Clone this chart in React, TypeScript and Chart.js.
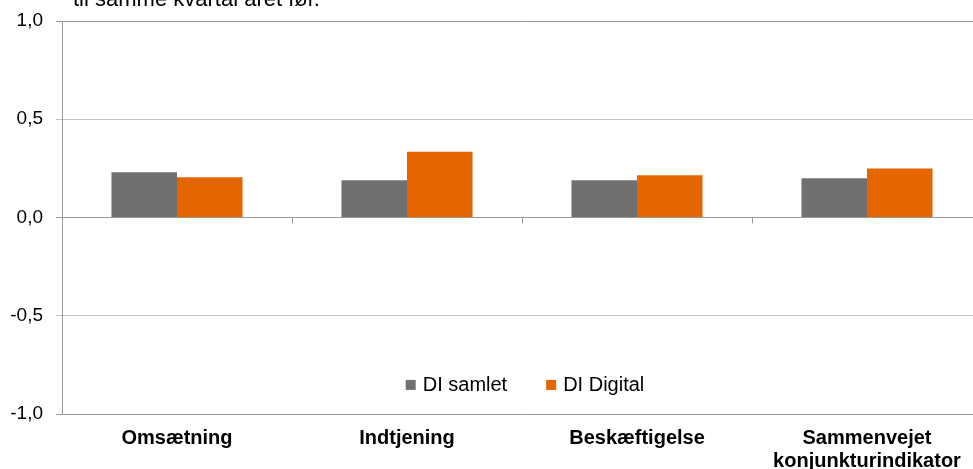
import React, { useEffect, useRef } from "react";
import { Chart, registerables } from "chart.js";

Chart.register(...registerables);

const categories: (string | string[])[] = [
  "Omsætning",
  "Indtjening",
  "Beskæftigelse",
  ["Sammenvejet", "konjunkturindikator"],
];
const seriesNames = ["DI samlet", "DI Digital"];
const diSamlet = [0.23, 0.19, 0.19, 0.2];
const diDigital = [0.205, 0.335, 0.215, 0.25];
const yTicks = [-1, -0.5, 0, 0.5, 1];
const titleText = "til samme kvartal året før.";

const FONT = 'Arial, "Liberation Sans", sans-serif';
const GRAY = "#707070";
const ORANGE = "#e46600";

const extrasPlugin = {
  id: "extras",
  afterDraw(chart: any) {
    const ctx = chart.ctx;
    const x = chart.scales.x;
    const y = chart.scales.y;
    const area = chart.chartArea;
    ctx.save();
    const zeroY = y.getPixelForValue(0);
    const n = chart.data.labels.length;
    ctx.strokeStyle = "#999999";
    ctx.lineWidth = 1;
    for (let i = 0; i <= n; i++) {
      const px = Math.round(x.left + (i * (x.right - x.left)) / n) + 0.5;
      ctx.beginPath();
      ctx.moveTo(px, zeroY);
      ctx.lineTo(px, zeroY + 6);
      ctx.stroke();
    }
    ctx.font = `20px ${FONT}`;
    ctx.textBaseline = "middle";
    const ds = chart.data.datasets;
    const box = 10;
    const gapBox = 7;
    const gapItem = 39;
    let total = 0;
    ds.forEach((d: any, i: number) => {
      total += box + gapBox + ctx.measureText(d.label).width;
      if (i < ds.length - 1) total += gapItem;
    });
    const ly = y.getPixelForValue(-0.852);
    let lx = (area.left + area.right) / 2 + 3 - total / 2;
    ds.forEach((d: any) => {
      ctx.fillStyle = d.backgroundColor;
      ctx.fillRect(lx, ly - box / 2, box, box);
      lx += box + gapBox;
      ctx.fillStyle = "#000000";
      ctx.textAlign = "left";
      ctx.fillText(d.label, lx, ly + 1);
      lx += ctx.measureText(d.label).width + gapItem;
    });
    ctx.font = `22px ${FONT}`;
    ctx.textBaseline = "alphabetic";
    ctx.fillStyle = "#000000";
    ctx.fillText(titleText, 73, 6);
    ctx.restore();
  },
};

export default function App() {
  const ref = useRef<HTMLCanvasElement | null>(null);
  useEffect(() => {
    if (!ref.current) return;
    const chart = new Chart(ref.current, {
      type: "bar",
      data: {
        labels: categories,
        datasets: [
          { label: seriesNames[0], data: diSamlet, backgroundColor: GRAY },
          { label: seriesNames[1], data: diDigital, backgroundColor: ORANGE },
        ],
      },
      options: {
        animation: false,
        responsive: false,
        maintainAspectRatio: false,
        devicePixelRatio: 1,
        layout: { padding: { top: 21, left: 0, right: 0, bottom: 0 } },
        plugins: {
          legend: { display: false },
          tooltip: { enabled: false },
          title: { display: false },
        },
        datasets: {
          bar: { categoryPercentage: 0.57, barPercentage: 1.0 },
        },
        scales: {
          x: {
            grid: { display: false, drawTicks: false },
            border: { display: false },
            ticks: {
              color: "#000000",
              font: { family: FONT, size: 20, weight: "bold", lineHeight: 1.15 },
              padding: 13,
              maxRotation: 0,
              autoSkip: false,
            },
            afterFit(scale: any) {
              scale.height = 55;
            },
          },
          y: {
            min: -1,
            max: 1,
            afterBuildTicks(scale: any) {
              scale.ticks = yTicks.map((v) => ({ value: v }));
            },
            grid: {
              color: (c: any) => {
                const v = c.tick ? c.tick.value : 0;
                if (Math.abs(v) === 1 || v === 0) return "#999999";
                return "#c0c0c0";
              },
              lineWidth: 1,
              drawTicks: true,
              tickLength: 6,
            },
            border: { display: true, color: "#999999", width: 1 },
            ticks: {
              color: "#000000",
              font: { family: FONT, size: 19, lineHeight: 0.8 },
              padding: 13,
              callback: (v: any) => Number(v).toFixed(1).replace(".", ","),
            },
            afterFit(scale: any) {
              scale.width = 62;
            },
          },
        },
      },
      plugins: [extrasPlugin],
    });
    return () => chart.destroy();
  }, []);
  return (
    <div
      style={{
        position: "fixed",
        left: 0,
        top: 0,
        width: 973,
        height: 469,
        overflow: "hidden",
        background: "#ffffff",
      }}
    >
      <canvas ref={ref} width={982} height={469} style={{ display: "block" }} />
    </div>
  );
}
